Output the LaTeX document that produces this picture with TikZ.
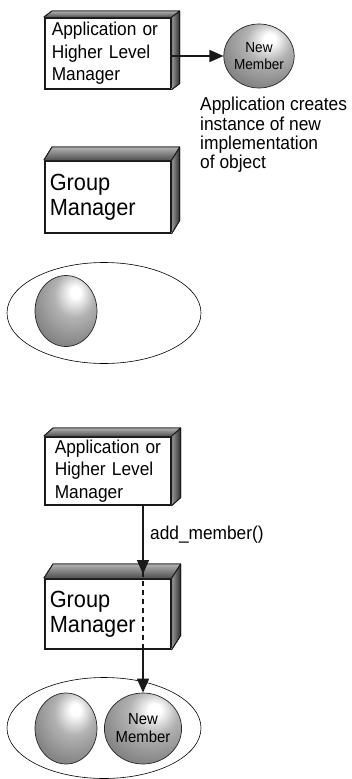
\documentclass[tikz,border=0pt]{standalone}
\usepackage{fontspec}
\setmainfont{Liberation Sans}[FakeStretch=0.93]
\usetikzlibrary{arrows.meta,calc,shapes.geometric}
\pgfdeclareradialshading{sph}{\pgfpoint{8bp}{14bp}}{%
  color(0bp)=(white);
  color(4bp)=(white);
  color(16bp)=(black!30);
  color(32bp)=(black!47);
  color(48bp)=(black!57);
  color(64bp)=(black!64);
  color(85bp)=(black!68)}
\tikzset{
  front/.style={draw=black!90, line width=1.6pt, fill=white, anchor=north west,
    minimum width=126pt, inner ysep=0pt, align=left, text width=#1},
  topface/.style={top color=black!30, bottom color=black!68, draw=black!90, line width=0.9pt, line join=round},
  sideface/.style={left color=black!40, right color=black!82, draw=black!90, line width=0.9pt, line join=round},
  sphere/.style={ellipse, shading=sph, draw=black!85, line width=0.7pt,
    minimum width=62pt, minimum height=71pt, inner sep=0pt, align=center},
  grp/.style={draw=black, line width=0.6pt, ellipse, minimum width=194pt, minimum height=101pt},
  arr/.style={draw=black!90, line width=1.6pt, -{Triangle[length=14pt,width=12pt]}},
  smallfont/.style={font=\fontsize{18.6}{22.5}\selectfont},
  bigfont/.style={font=\fontsize{23.4}{25}\selectfont},
  capfont/.style={font=\fontsize{18.7}{19.3}\selectfont},
  memfont/.style={font=\fontsize{14.6}{18}\selectfont}
}
\begin{document}
\begin{tikzpicture}[x=1pt,y=-1pt]
\useasboundingbox (0,0) rectangle (351,779);

% ---------- Top scene ----------
% box 1: application
\node[front=112pt, minimum height=71pt, smallfont, inner xsep=7pt] (b1) at (44,17)
  {Application~or\\Higher~Level\\Manager};
\fill[topface] (b1.north west) -- ++(8,-6) -- ($(b1.north east)+(8,-6)$) -- (b1.north east) -- cycle;
\fill[sideface] (b1.north east) -- ++(8,-6) -- ($(b1.south east)+(8,-6)$) -- (b1.south east) -- cycle;
\draw[topface,fill=none] (b1.north west) -- ++(8,-6) -- ($(b1.north east)+(8,-6)$) -- (b1.north east);
\draw[sideface,fill=none] ($(b1.north east)+(8,-6)$) -- ($(b1.south east)+(8,-6)$) -- (b1.south east);

% new member
\node[sphere, memfont, minimum width=62pt, minimum height=64pt] (m1) at (259,56) {New\\[-1pt]Member};
\draw[arr] (b1.east |- m1) -- (m1);

\node[capfont, anchor=north west, align=left, inner sep=0pt] (cap) at (200,97)
  {Application creates\\instance of new\\implementation\\of object};

% box 2: group manager
\node[front=116pt, minimum height=72pt, bigfont, inner xsep=5pt] (b2) at (44,160)
  {Group\\Manager};
\fill[topface] (b2.north west) -- ++(8,-13) -- ($(b2.north east)+(8,-13)$) -- (b2.north east) -- cycle;
\fill[sideface] (b2.north east) -- ++(8,-13) -- ($(b2.south east)+(8,-13)$) -- (b2.south east) -- cycle;
\draw[topface,fill=none] (b2.north west) -- ++(8,-13) -- ($(b2.north east)+(8,-13)$) -- (b2.north east);
\draw[sideface,fill=none] ($(b2.north east)+(8,-13)$) -- ($(b2.south east)+(8,-13)$) -- (b2.south east);

% group 1
\node[grp] (g1) at (104,313) {};
\node[sphere] (s1) at (66,311) {};

% ---------- Bottom scene ----------
\node[front=106pt, minimum height=68pt, smallfont, inner xsep=10pt] (b3) at (44,436)
  {Application~or\\Higher~Level\\Manager};
\fill[topface] (b3.north west) -- ++(9,-8) -- ($(b3.north east)+(9,-8)$) -- (b3.north east) -- cycle;
\fill[sideface] (b3.north east) -- ++(9,-8) -- ($(b3.south east)+(9,-8)$) -- (b3.south east) -- cycle;
\draw[topface,fill=none] (b3.north west) -- ++(9,-8) -- ($(b3.north east)+(9,-8)$) -- (b3.north east);
\draw[sideface,fill=none] ($(b3.north east)+(9,-8)$) -- ($(b3.south east)+(9,-8)$) -- (b3.south east);

\node[front=116pt, minimum height=70pt, bigfont, inner xsep=5pt] (b4) at (44,578)
  {Group\\Manager};
\fill[topface] (b4.north west) -- ++(9,-14) -- ($(b4.north east)+(9,-14)$) -- (b4.north east) -- cycle;
\fill[sideface] (b4.north east) -- ++(9,-14) -- ($(b4.south east)+(9,-14)$) -- (b4.south east) -- cycle;
\draw[topface,fill=none] (b4.north west) -- ++(9,-14) -- ($(b4.north east)+(9,-14)$) -- (b4.north east);
\draw[sideface,fill=none] ($(b4.north east)+(9,-14)$) -- ($(b4.south east)+(9,-14)$) -- (b4.south east);

% group 2
\node[grp] (g2) at (104,728) {};
\node[sphere] (s2) at (66,728.5) {};
\node[sphere, font=\fontsize{16}{19}\selectfont] (m2) at (143,728.5) {New\\[-1pt]Member};

% connectors
\coordinate (a3) at ($(b3.south west)+(99,-1)$);
\coordinate (a4) at ($(b4.north west)+(99,-4)$);
\coordinate (d4) at ($(b4.south west)+(99,0)$);
\draw[arr] (a3) -- (a4);
\node[smallfont, anchor=west, inner sep=0pt] (lab) at (150,535) {add\_member()};
\draw[black!90, line width=2.4pt, dash pattern=on 4.5pt off 4.5pt] ($(b4.north west)+(99,-6)$) -- (d4);
\draw[arr] (d4) -- (m2.north);
\end{tikzpicture}
\end{document}
